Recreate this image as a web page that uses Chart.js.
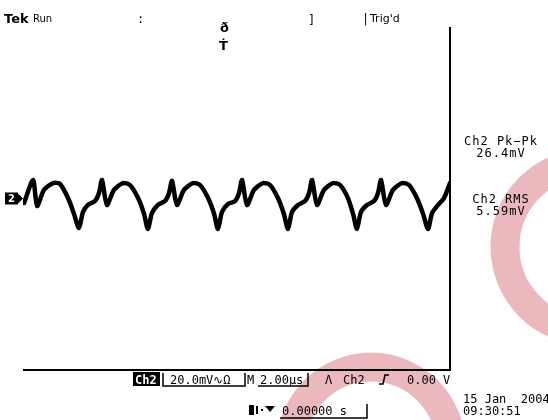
<!DOCTYPE html>
<html>
<head>
<meta charset="utf-8">
<script src="https://cdn.jsdelivr.net/npm/chart.js@4"></script>
<style>
  html, body { margin: 0; padding: 0; background: #fff; }
  #wrap { width: 548px; height: 420px; position: relative; }
</style>
</head>
<body>
<div id="wrap"><canvas id="scope"></canvas></div>
<script>
// Ch2 trace: time in microseconds, level in mV
const timeUs = [
    0.05, 0.47, 0.66, 0.98, 1.41, 1.73, 2.11, 2.39, 2.62, 2.81, 3.04, 3.37, 3.56,
    3.70, 3.93, 4.26, 4.68, 5.01, 5.39, 5.67, 5.85, 6.04, 6.32, 6.65, 6.84,
    6.98, 7.21, 7.54, 7.96, 8.29, 8.67, 8.95, 9.13, 9.32, 9.60, 9.93, 10.12,
    10.26, 10.49, 10.82, 11.24, 11.57, 11.94, 12.22, 12.41, 12.60, 12.88, 13.21, 13.40,
    13.54, 13.77, 14.10, 14.52, 14.85, 15.22, 15.46, 15.64, 15.83, 16.11, 16.44, 16.63,
    16.77, 17.00, 17.33, 17.75, 18.08, 18.45, 18.74, 18.97, 19.16, 19.44, 19.72, 20.00
];
const ch2mV = [
    -2.1, 8.6, -3.5, 4.0, 7.2, 6.8, 0.2, -7.2, -13.8, -6.3, -3.0, -1.2, 2.6,
    8.6, -3.0, 4.0, 7.2, 6.3, 0.2, -7.2, -14.2, -6.8, -3.0, -1.2, 2.6,
    8.2, -3.0, 4.0, 7.2, 6.3, 0.2, -7.2, -14.2, -6.3, -2.6, -1.2, 2.6,
    8.6, -3.0, 4.0, 7.2, 6.3, 0.2, -7.2, -14.2, -6.3, -3.0, -1.2, 2.6,
    8.6, -3.0, 4.0, 7.2, 6.3, 0.2, -7.2, -14.2, -6.3, -3.0, -1.2, 2.6,
    8.6, -3.0, 4.0, 7.2, 6.3, 0.2, -7.2, -14.2, -6.8, -3.0, 0.2, 7.2
];

// screen span: 10 div x 2.00 us, 8 div x 20.0 mV
const timeRange = [0, 20];
const voltRange = [-80, 80];

// readouts
const topLabels = ['Tek', 'Run', 'Trig\'d'];
const measureLabels = ['Ch2 Pk\u2212Pk', '26.4mV', 'Ch2 RMS', '5.59mV'];
const statusLabels = ['Ch2', '20.0mV\u223f\u03a9', 'M', '2.00\u00b5s', '\u039b', 'Ch2', '0.00 V'];
const positionLabel = '0.00000 s';
const dateLabels = ['15 Jan  2004', '09:30:51'];

const mono = '12px "DejaVu Sans Mono"';

// fond rose derriere la trace
const watermark = {
    id: 'watermark',
    beforeDraw(chart) {
        const ctx = chart.ctx;
        ctx.save();
        ctx.strokeStyle = '#ebb9bd';
        ctx.lineWidth = 29;
        ctx.beginPath();
        ctx.arc(589, 247, 84, 0, Math.PI * 2);
        ctx.stroke();
        ctx.beginPath();
        ctx.arc(371, 447, 80, 0, Math.PI * 2);
        ctx.stroke();
        ctx.restore();
    }
};

// cadre, marqueur de voie et textes de l'ecran
const screenText = {
    id: 'screenText',
    afterDraw(chart) {
        const ctx = chart.ctx;
        const area = chart.chartArea;
        ctx.save();
        ctx.fillStyle = '#000';
        ctx.strokeStyle = '#000';

        // graticule edges
        ctx.lineWidth = 2;
        ctx.beginPath();
        ctx.moveTo(area.left, area.bottom);
        ctx.lineTo(area.right + 1, area.bottom);
        ctx.moveTo(area.right, area.top);
        ctx.lineTo(area.right, area.bottom);
        ctx.stroke();

        // channel 2 ground marker
        const gy = chart.scales.y.getPixelForValue(0);
        ctx.fillRect(5, gy - 6, 13, 12);
        ctx.beginPath();
        ctx.moveTo(17, gy - 6);
        ctx.lineTo(23, gy);
        ctx.lineTo(17, gy + 6);
        ctx.fill();
        ctx.fillStyle = '#fff';
        ctx.font = 'bold 10px "DejaVu Sans"';
        ctx.textBaseline = 'middle';
        ctx.fillText('2', 8, gy + 1);
        ctx.fillStyle = '#000';

        // top line
        ctx.textBaseline = 'alphabetic';
        ctx.font = 'bold 13px "DejaVu Sans"';
        ctx.fillText(topLabels[0], 4, 23);
        ctx.font = '10px "DejaVu Sans"';
        ctx.fillText(topLabels[1], 33, 22);
        ctx.font = mono;
        ctx.fillText(':', 137, 23);
        ctx.fillText(']', 308, 24);
        ctx.fillText('|', 362, 23);
        ctx.font = '11px "DejaVu Sans"';
        ctx.fillText(topLabels[2], 370, 22);
        ctx.font = 'bold 13px "DejaVu Sans"';
        ctx.fillText('\u00f0', 220, 32);
        ctx.fillText('\u1e6a', 219, 50);

        // measurements
        ctx.textAlign = 'center';
        ctx.font = mono;
        ctx.letterSpacing = '1px';
        ctx.fillText(measureLabels[0], 501, 145);
        ctx.fillText(measureLabels[1], 501, 157);
        ctx.fillText(measureLabels[2], 501, 203);
        ctx.fillText(measureLabels[3], 501, 215);
        ctx.letterSpacing = '0px';
        ctx.textAlign = 'left';

        // status line
        ctx.fillRect(133, 372, 27, 14);
        ctx.fillStyle = '#fff';
        ctx.font = 'bold ' + mono;
        ctx.fillText(statusLabels[0], 135, 384);
        ctx.fillStyle = '#000';
        ctx.font = mono;
        ctx.lineWidth = 1.5;
        ctx.beginPath();
        ctx.moveTo(163, 373); ctx.lineTo(163, 386); ctx.lineTo(245, 386); ctx.lineTo(245, 373);
        ctx.moveTo(258, 386); ctx.lineTo(308, 386); ctx.lineTo(308, 373);
        ctx.stroke();
        ctx.fillText(statusLabels[1], 170, 384);
        ctx.fillText(statusLabels[2], 247, 384);
        ctx.fillText(statusLabels[3], 260, 384);
        ctx.fillText(statusLabels[4], 325, 384);
        ctx.fillText(statusLabels[5], 343, 384);
        // rising edge glyph
        ctx.beginPath();
        ctx.moveTo(379, 384); ctx.lineTo(383, 384); ctx.lineTo(385, 375); ctx.lineTo(389, 375);
        ctx.stroke();
        ctx.fillText(statusLabels[6], 407, 384);

        // horizontal position
        ctx.fillRect(249, 405, 5, 10);
        ctx.fillRect(256, 406, 2, 8);
        ctx.fillRect(261, 409, 2, 2);
        ctx.beginPath();
        ctx.moveTo(265, 406); ctx.lineTo(275, 406); ctx.lineTo(270, 412);
        ctx.fill();
        ctx.fillText(positionLabel, 282, 415);
        ctx.beginPath();
        ctx.moveTo(280, 418); ctx.lineTo(367, 418); ctx.lineTo(367, 404);
        ctx.stroke();

        // date / time
        ctx.fillText(dateLabels[0], 463, 403);
        ctx.fillText(dateLabels[1], 463, 415);
        ctx.restore();
    }
};

new Chart(document.getElementById('scope').getContext('2d'), {
    type: 'line',
    data: {
        datasets: [{
            label: 'Ch2',
            data: timeUs.map((t, i) => ({ x: t, y: ch2mV[i] })),
            borderColor: '#000',
            borderWidth: 4.5,
            pointRadius: 0,
            tension: 0.25,
            borderJoinStyle: 'round',
            borderCapStyle: 'round'
        }]
    },
    options: {
        responsive: true,
        maintainAspectRatio: false,
        animation: false,
        layout: { padding: { left: 23, right: 98, top: 27, bottom: 50 } },
        scales: {
            x: { type: 'linear', min: timeRange[0], max: timeRange[1], display: false },
            y: { min: voltRange[0], max: voltRange[1], display: false }
        },
        plugins: {
            legend: { display: false },
            tooltip: { enabled: false }
        }
    },
    plugins: [watermark, screenText]
});
</script>
</body>
</html>
